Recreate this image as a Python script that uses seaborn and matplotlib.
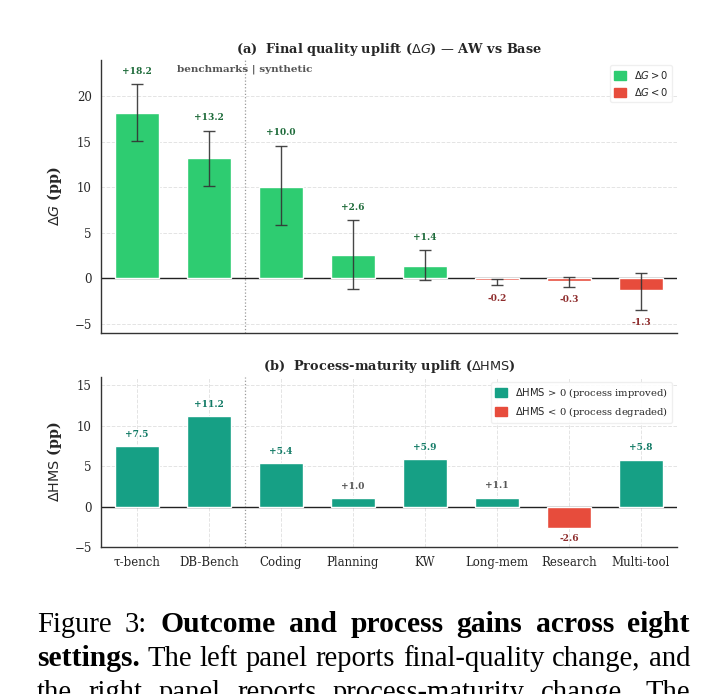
import matplotlib
matplotlib.use("Agg")
import matplotlib.pyplot as plt
import seaborn as sns
import numpy as np
from matplotlib.patches import Patch

# ---------------- data ----------------
categories = ["τ-bench", "DB-Bench", "Coding", "Planning", "KW", "Long-mem", "Research", "Multi-tool"]
delta_g = [18.2, 13.2, 10.0, 2.6, 1.4, -0.2, -0.3, -1.3]
delta_g_err_lo = [3.15, 3.0, 4.15, 3.77, 1.62, 0.57, 0.66, 2.15]
delta_g_err_hi = [3.15, 3.05, 4.6, 3.77, 1.72, 0.16, 0.45, 1.89]
delta_hms = [7.5, 11.2, 5.4, 1.0, 5.9, 1.1, -2.6, 5.8]

caption_lines = [
    [("Figure", False), ("3:", False), ("Outcome", True), ("and", True), ("process", True),
     ("gains", True), ("across", True), ("eight", True)],
    [("settings.", True), ("The", False), ("left", False), ("panel", False), ("reports", False),
     ("final-quality", False), ("change,", False), ("and", False)],
    [("the", False), ("right", False), ("panel", False), ("reports", False),
     ("process-maturity", False), ("change.", False), ("The", False)],
]

# ---------------- style ----------------
sns.set_style("white")
plt.rcParams["font.family"] = ["DejaVu Serif", "DejaVu Sans"]
plt.rcParams["mathtext.fontset"] = "dejavusans"

GREEN = "#2ecc71"
TEAL = "#16a085"
RED = "#e74c3c"
GREEN_TXT = "#1e6b3a"
TEAL_TXT = "#117a65"
RED_TXT = "#8e2c2c"
GRAY_TXT = "#555555"
SPINE = "#333333"

TICK_FS = 8.5
fig = plt.figure(figsize=(7.28, 6.94), dpi=100)
W, H = 728, 694


def ax_rect(x0, y0, x1, y1):
    return [x0 / W, 1 - y1 / H, (x1 - x0) / W, (y1 - y0) / H]


ax1 = fig.add_axes(ax_rect(101, 60, 677, 333))
ax2 = fig.add_axes(ax_rect(101, 377, 677, 547))

# ---------------- panel (a) ----------------
pal1 = {c: (GREEN if v > 0 else RED) for c, v in zip(categories, delta_g)}
sns.barplot(x=categories, y=delta_g, hue=categories, palette=pal1, legend=False,
            width=0.6, edgecolor="white", linewidth=1, ax=ax1, zorder=3, saturation=1)
xpos = np.arange(len(categories))
ax1.errorbar(xpos, delta_g, yerr=[delta_g_err_lo, delta_g_err_hi], fmt="none",
             ecolor="#333333", elinewidth=1, capsize=4, capthick=1, zorder=4, alpha=0.9)
ax1.axhline(0, color="#222222", lw=1, zorder=2)
ax1.axvline(1.5, color="#999999", lw=0.9, ls=":", zorder=1)
for x, v, lo, hi in zip(xpos, delta_g, delta_g_err_lo, delta_g_err_hi):
    if v > 0:
        ax1.text(x, v + hi + 1.4, f"+{v:.1f}", ha="center", va="center",
                 fontsize=6.5, fontweight="bold", color=GREEN_TXT, zorder=5)
    else:
        ax1.text(x, v - lo - 1.4, f"{v:.1f}", ha="center", va="center",
                 fontsize=6.5, fontweight="bold", color=RED_TXT, zorder=5)
ax1.set_xlim(-0.5, 7.5)
ax1.set_ylim(-6, 24)
ax1.set_yticks([-5, 0, 5, 10, 15, 20])
ax1.set_xticks(xpos)
ax1.set_xticklabels([])
ax1.tick_params(axis="x", length=0)
ax1.tick_params(axis="y", labelsize=TICK_FS, length=3, color=SPINE, width=0.8)
ax1.yaxis.grid(True, ls="--", color="#dddddd", lw=0.7, alpha=0.8)
ax1.set_axisbelow(True)
ax1.set_ylabel(r"$\Delta G$ (pp)", fontsize=10.3, fontweight="bold")
ax1.set_title(r"(a)  Final quality uplift ($\Delta G$) — AW vs Base", fontsize=9.3,
              fontweight="bold", pad=5)
ax1.text(1.5, 23.0, "benchmarks | synthetic", ha="center", va="center", fontsize=7.5,
         fontweight="bold", color=GRAY_TXT)
ax1.legend(handles=[Patch(color=GREEN, label=r"$\Delta G > 0$"),
                    Patch(color=RED, label=r"$\Delta G < 0$")],
           loc="upper right", fontsize=7.2, frameon=True, framealpha=0.9,
           edgecolor="#eeeeee", handlelength=1.2, handleheight=0.9,
           borderaxespad=0.5)

# ---------------- panel (b) ----------------
pal2 = {c: (TEAL if v > 0 else RED) for c, v in zip(categories, delta_hms)}
sns.barplot(x=categories, y=delta_hms, hue=categories, palette=pal2, legend=False,
            width=0.6, edgecolor="white", linewidth=1, ax=ax2, zorder=3, saturation=1)
ax2.axhline(0, color="#222222", lw=1, zorder=2)
ax2.axvline(1.5, color="#999999", lw=0.9, ls=":", zorder=1)
for x, v in zip(xpos, delta_hms):
    if v > 0:
        col = TEAL_TXT if v >= 2 else GRAY_TXT
        ax2.text(x, v + 1.45, f"+{v:.1f}", ha="center", va="center",
                 fontsize=6.5, fontweight="bold", color=col, zorder=5)
    else:
        ax2.text(x, v - 1.35, f"{v:.1f}", ha="center", va="center",
                 fontsize=6.5, fontweight="bold", color=RED_TXT, zorder=5)
ax2.set_xlim(-0.5, 7.5)
ax2.set_ylim(-5, 16)
ax2.set_yticks([-5, 0, 5, 10, 15])
ax2.set_xticks(xpos)
ax2.set_xticklabels(categories)
ax2.tick_params(axis="x", labelsize=TICK_FS, length=3, color=SPINE, width=0.8)
ax2.tick_params(axis="y", labelsize=TICK_FS, length=3, color=SPINE, width=0.8)
ax2.grid(True, ls="--", color="#dddddd", lw=0.7, alpha=0.8)
ax2.set_axisbelow(True)
ax2.set_xlabel("")
ax2.set_ylabel(r"$\Delta\mathrm{HMS}$ (pp)", fontsize=10.3, fontweight="bold")
ax2.set_title(r"(b)  Process-maturity uplift ($\Delta\mathrm{HMS}$)", fontsize=9.3,
              fontweight="bold", pad=5)
ax2.legend(handles=[Patch(color=TEAL, label=r"$\Delta\mathrm{HMS}$ > 0 (process improved)"),
                    Patch(color=RED, label=r"$\Delta\mathrm{HMS}$ < 0 (process degraded)")],
           loc="upper right", fontsize=7.2, frameon=True, framealpha=0.9,
           edgecolor="#eeeeee", handlelength=1.2, handleheight=0.9,
           borderaxespad=0.5)

for ax in (ax1, ax2):
    sns.despine(ax=ax)
    for s in ("left", "bottom"):
        ax.spines[s].set_color(SPINE)
        ax.spines[s].set_linewidth(1.0)
    ax.yaxis.set_label_coords(-0.064, 0.5)

# ---------------- caption (justified) ----------------
renderer = fig.canvas.get_renderer()
cap_x0, cap_x1 = 37, 690
baselines = [632.5, 666, 700]
for words, base in zip(caption_lines, baselines):
    texts = []
    for w, b in words:
        t = fig.text(0, 1 - base / H, w, family=["Liberation Serif", "DejaVu Serif"],
                     fontsize=21.3 if b else 20.6, fontweight="bold" if b else "normal",
                     va="baseline", ha="left", color="black")
        texts.append(t)
    widths = [t.get_window_extent(renderer).width for t in texts]
    gap = (cap_x1 - cap_x0 - sum(widths)) / (len(texts) - 1)
    x = cap_x0
    for t, wd in zip(texts, widths):
        t.set_x(x / W)
        x += wd + gap

fig.savefig("out.png", dpi=100)
